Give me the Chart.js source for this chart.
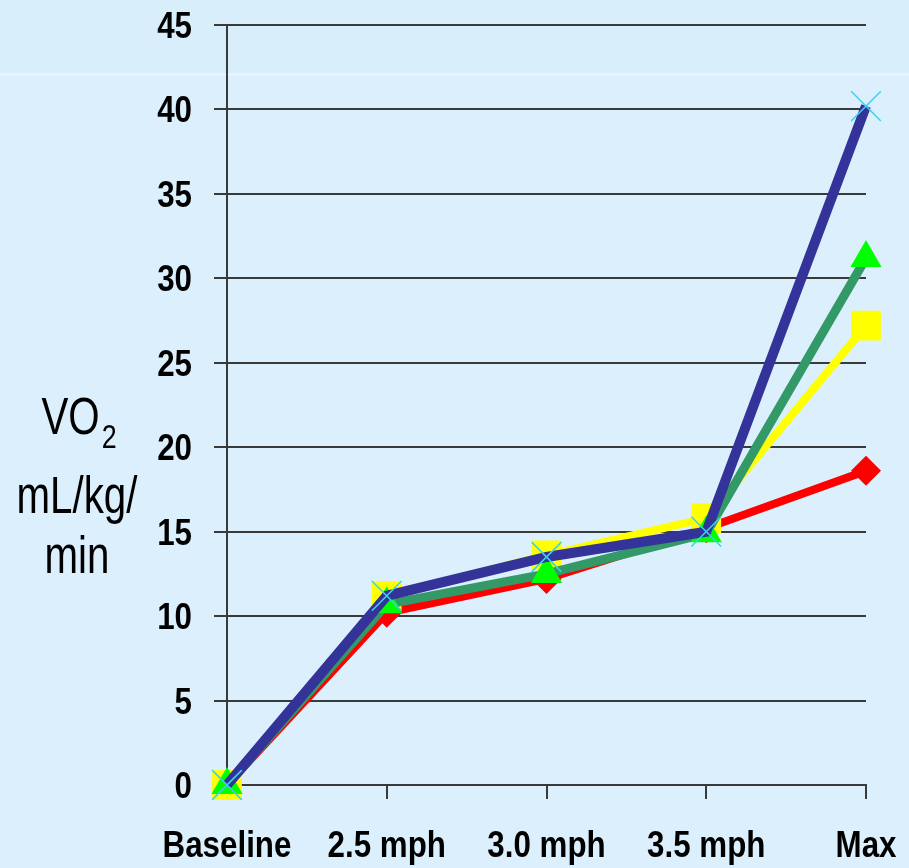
<!DOCTYPE html>
<html>
<head>
<meta charset="utf-8">
<title>VO2 by treadmill stage</title>
<script src="https://cdn.jsdelivr.net/npm/chart.js@4.4.0/dist/chart.umd.min.js"></script>
<style>
  html, body { margin: 0; padding: 0; background: #dbf0fc; }
  #wrap { width: 909px; height: 868px; }
</style>
</head>
<body>
<div id="wrap"><canvas id="myChart" width="909" height="868"></canvas></div>
<script>
'use strict';

// Data
let stages = ['Baseline', '2.5 mph', '3.0 mph', '3.5 mph', 'Max'];
let redValues = [0, 10.2, 12.2, 15.2, 18.6];
let yellowValues = [0, 11.2, 13.6, 15.8, 27.2];
let greenValues = [0, 10.7, 12.5, 14.9, 31.2];
let blueValues = [0, 11.2, 13.5, 15.0, 40.2];
let yMax = 45;
let yStep = 5;

// no Arial Narrow here, so Liberation Sans gets squeezed sideways
let labelFont = "'Liberation Sans', Arial, sans-serif";
let squeeze = 0.87;
let titleSqueeze = 0.79;
let bgColor = '#dbf0fc';
let lineGray = '#3a3a3a';

// paints the slide background and the faint light band near the top
let backgroundPlugin = {
  id: 'background',
  beforeDraw(chart) {
    let ctx = chart.ctx;
    ctx.save();
    ctx.fillStyle = bgColor;
    ctx.fillRect(0, 0, chart.width, chart.height);
    ctx.fillStyle = '#d9eefb';
    ctx.fillRect(0, 0, chart.width, 73);
    ctx.fillStyle = '#e6f5fd';
    ctx.fillRect(0, 73, chart.width, 3);
    ctx.restore();
  }
};

function squeezedText(ctx, text, x, y, align, amount) {
  ctx.save();
  ctx.translate(x, y);
  ctx.scale(amount, 1);
  ctx.textAlign = align;
  ctx.fillText(text, 0, 0);
  ctx.restore();
}

// tick labels in the narrow bold look, placed from the chart's own scales
let tickLabelPlugin = {
  id: 'tickLabels',
  afterDraw(chart) {
    let ctx = chart.ctx;
    let xScale = chart.scales.x;
    let yScale = chart.scales.y;
    ctx.save();
    ctx.fillStyle = '#000';
    ctx.textBaseline = 'alphabetic';
    ctx.font = 'bold 36px ' + labelFont;
    for (let i = 0; i < yScale.ticks.length; i++) {
      let y = yScale.getPixelForTick(i);
      squeezedText(ctx, String(yScale.ticks[i].value), 192, y + 13, 'right', squeeze);
    }
    for (let i = 0; i < xScale.ticks.length; i++) {
      let x = xScale.getPixelForTick(i);
      squeezedText(ctx, xScale.getLabelForValue(xScale.ticks[i].value), x, 857, 'center', squeeze);
    }
    ctx.restore();
  }
};

// horizontal y axis title with a subscript 2
let yTitlePlugin = {
  id: 'yTitle',
  afterDraw(chart) {
    let ctx = chart.ctx;
    ctx.save();
    ctx.fillStyle = '#000';
    ctx.textBaseline = 'alphabetic';
    ctx.font = '51px ' + labelFont;
    let w1 = ctx.measureText('VO').width * titleSqueeze;
    ctx.font = '34px ' + labelFont;
    let w2 = ctx.measureText('2').width * titleSqueeze;
    let startX = 78 - (w1 + w2) / 2;
    ctx.font = '51px ' + labelFont;
    squeezedText(ctx, 'VO', startX, 434, 'left', titleSqueeze);
    ctx.font = '34px ' + labelFont;
    squeezedText(ctx, '2', startX + w1 + 2, 448, 'left', titleSqueeze);
    ctx.font = '51px ' + labelFont;
    squeezedText(ctx, 'mL/kg/', 77, 513, 'center', titleSqueeze);
    squeezedText(ctx, 'min', 77, 573, 'center', titleSqueeze);
    ctx.restore();
  }
};

let chartConfig = {
  type: 'line',
  data: {
    labels: stages,
    datasets: [{
      label: 'blue',
      data: blueValues,
      borderColor: '#333399',
      borderWidth: 10,
      pointStyle: 'crossRot',
      pointRadius: 21,
      pointBorderColor: '#3cd0f0',
      pointBorderWidth: 1.5,
      pointBackgroundColor: 'rgba(0,0,0,0)',
      clip: false
    },
    {
      label: 'green',
      data: greenValues,
      borderColor: '#339966',
      borderWidth: 9,
      pointStyle: 'triangle',
      pointRadius: 18,
      pointBackgroundColor: '#00ff00',
      pointBorderColor: '#00ff00',
      pointBorderWidth: 0,
      clip: false
    },
    {
      label: 'yellow',
      data: yellowValues,
      borderColor: '#ffff00',
      borderWidth: 8,
      pointStyle: 'rect',
      pointRadius: 21,
      pointBackgroundColor: '#ffff00',
      pointBorderColor: '#ffff00',
      pointBorderWidth: 0,
      clip: false
    },
    {
      label: 'red',
      data: redValues,
      borderColor: '#ff0000',
      borderWidth: 8,
      pointStyle: 'rectRot',
      pointRadius: 15,
      pointBackgroundColor: '#ff0000',
      pointBorderColor: '#ff0000',
      pointBorderWidth: 0,
      clip: false
    }]
  },
  options: {
    responsive: false,
    animation: false,
    layout: {
      padding: { top: 25, right: 43, left: 0, bottom: 0 }
    },
    plugins: {
      legend: { display: false },
      tooltip: { enabled: false }
    },
    scales: {
      x: {
        offset: false,
        grid: {
          drawOnChartArea: false,
          tickLength: 14,
          color: lineGray,
          lineWidth: 2
        },
        border: { display: true, color: lineGray, width: 2 },
        ticks: { display: false, autoSkip: false },
        afterFit(scale) {
          scale.height = 83;
        }
      },
      y: {
        min: 0,
        max: yMax,
        grid: {
          color: lineGray,
          lineWidth: 2,
          tickLength: 13
        },
        border: { display: true, color: lineGray, width: 2 },
        ticks: { display: false, stepSize: yStep },
        afterFit(scale) {
          scale.width = 227;
        }
      }
    }
  },
  plugins: [backgroundPlugin, tickLabelPlugin, yTitlePlugin]
};

let ctx = document.getElementById('myChart').getContext('2d');
let myChart = new Chart(ctx, chartConfig); //eslint-disable-line
</script>
</body>
</html>
